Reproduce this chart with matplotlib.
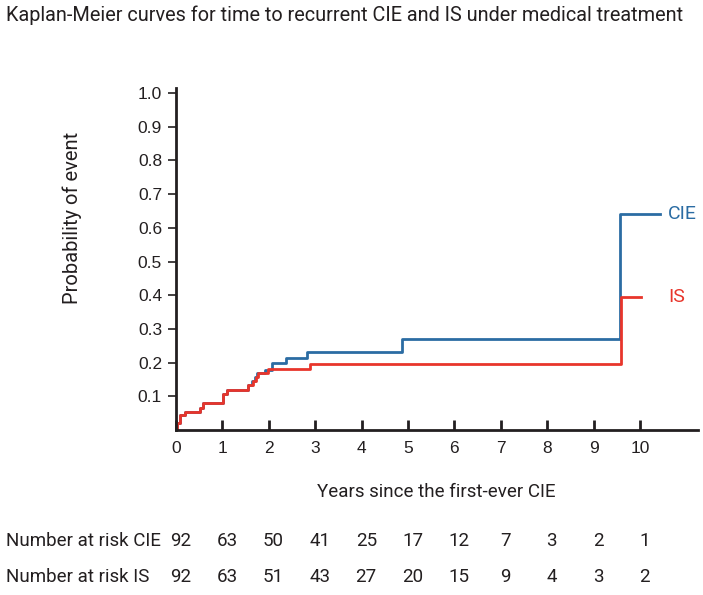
import matplotlib.pyplot as plt
from matplotlib.transforms import blended_transform_factory

# step data (time in years, cumulative probability)
cie_t = [0, 0.03, 0.09, 0.19, 0.52, 0.58, 1.02, 1.09, 1.56, 1.64, 1.70, 1.74, 1.92, 2.06, 2.38, 2.82, 4.86, 9.57, 10.43]
cie_p = [0, 0.02, 0.045, 0.054, 0.065, 0.079, 0.107, 0.119, 0.134, 0.145, 0.158, 0.17, 0.178, 0.20, 0.215, 0.231, 0.27, 0.641, 0.641]

is_t = [0, 0.03, 0.09, 0.19, 0.52, 0.58, 1.02, 1.09, 1.56, 1.66, 1.72, 1.76, 1.99, 2.89, 9.59, 10.03]
is_p = [0, 0.02, 0.045, 0.054, 0.065, 0.079, 0.107, 0.119, 0.134, 0.145, 0.158, 0.17, 0.181, 0.195, 0.396, 0.396]

years = list(range(0, 11))
risk_cie = [92, 63, 50, 41, 25, 17, 12, 7, 3, 2, 1]
risk_is = [92, 63, 51, 43, 27, 20, 15, 9, 4, 3, 2]

blue = '#2b6ca3'
red = '#e8352b'
txt = '#231f20'
tfont = 'Roboto'

fig = plt.figure(figsize=(7.03, 5.95), dpi=100)
ax = fig.add_axes([176/703, 1-430/595, (698-176)/703, (430-88)/595])

ax.step(cie_t, cie_p, where='post', color=blue, lw=2)
ax.step(is_t, is_p, where='post', color=red, lw=2)

ax.text(10.6, 0.641, 'CIE', color=blue, va='center', ha='left', fontsize=14, family=tfont)
ax.text(10.6, 0.396, 'IS', color=red, va='center', ha='left', fontsize=14, family=tfont)

ax.set_xlim(0, 11.25)
ax.set_ylim(0, 1.015)
ax.set_xticks(years)
ax.set_yticks([0.1, 0.2, 0.3, 0.4, 0.5, 0.6, 0.7, 0.8, 0.9, 1.0])
ax.set_yticklabels(['0.1', '0.2', '0.3', '0.4', '0.5', '0.6', '0.7', '0.8', '0.9', '1.0'])
ax.tick_params(axis='x', direction='in', length=7, width=2, color=txt, labelsize=12.5, pad=8,
               labelcolor=txt, labelfontfamily='Liberation Sans')
ax.tick_params(axis='y', direction='out', length=6, width=1.2, color=txt, labelsize=12.5, pad=4,
               labelcolor=txt, labelfontfamily='Liberation Sans')

for s in ['top', 'right']:
    ax.spines[s].set_visible(False)
for s in ['left', 'bottom']:
    ax.spines[s].set_linewidth(2)
    ax.spines[s].set_color(txt)

fig.text(6/703, 1-15/595, 'Kaplan-Meier curves for time to recurrent CIE and IS under medical treatment',
         fontsize=14.3, family=tfont, color=txt, va='center', ha='left')
fig.text(72/703, 1-218/595, 'Probability of event', rotation=90, fontsize=14.5, family=tfont,
         color=txt, va='center', ha='center')
fig.text(436/703, 1-492/595, 'Years since the first-ever CIE', fontsize=13.5, family=tfont,
         color=txt, va='center', ha='center')

# number at risk table
tr = blended_transform_factory(ax.transData, fig.transFigure)
for row_y, label, vals in [(541, 'Number at risk CIE', risk_cie), (577, 'Number at risk IS', risk_is)]:
    fig.text(6/703, 1-row_y/595, label, fontsize=13.5, family=tfont, color=txt, va='center', ha='left')
    for yr, v in zip(years, vals):
        ax.text(yr + 0.1, 1-row_y/595, str(v), transform=tr, fontsize=13.5, family=tfont,
                color=txt, va='center', ha='center', clip_on=False)

plt.savefig('out.png', dpi=100)
